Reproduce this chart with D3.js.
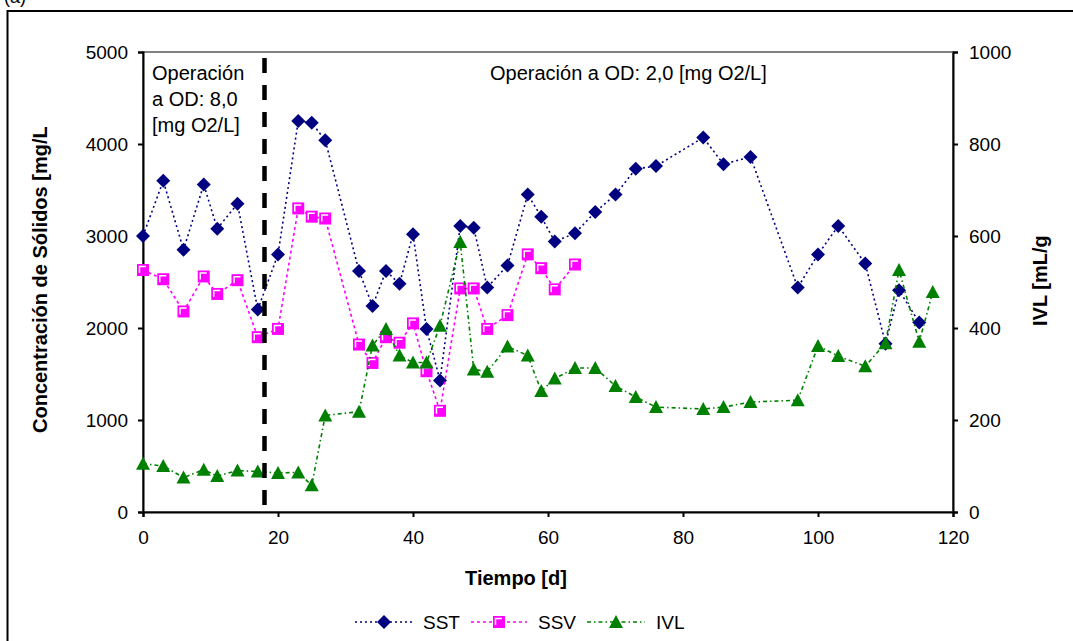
<!DOCTYPE html>
<html>
<head>
<meta charset="utf-8">
<script src="https://cdn.jsdelivr.net/npm/d3@7"></script>
<style>
  body { margin: 0; background: #fff; }
  svg text { font-family: "Liberation Sans", Arial, sans-serif; fill: #000; }
</style>
</head>
<body>
<div id="chart"></div>
<script>
// sampling days for SST
const days = [0, 3, 6, 9, 11, 14, 17, 20, 23, 25, 27, 32, 34, 36, 38, 40, 42, 44, 47, 49,
  51, 54, 57, 59, 61, 64, 67, 70, 73, 76, 83, 86, 90, 97, 100, 103, 107, 110, 112, 115];
const sst = [3000, 3600, 2850, 3560, 3080, 3350, 2200, 2800, 4250, 4230, 4040, 2620, 2240, 2620, 2480, 3020, 1990, 1430, 3110, 3090,
  2440, 2680, 3450, 3210, 2940, 3030, 3260, 3450, 3730, 3760, 4070, 3780, 3860, 2440, 2800, 3110, 2700, 1830, 2410, 2060];

// SSV only measured until day 64
const ssvDays = [0, 3, 6, 9, 11, 14, 17, 20, 23, 25, 27, 32, 34, 36, 38, 40, 42, 44, 47, 49, 51, 54, 57, 59, 61, 64];
const ssv = [2630, 2530, 2180, 2560, 2370, 2520, 1900, 1990, 3300, 3210, 3190, 1820, 1620, 1900, 1840, 2050, 1530, 1100, 2430, 2430,
  1990, 2140, 2800, 2650, 2420, 2690];

// IVL has one more point (day 117)
const ivlDays = [0, 3, 6, 9, 11, 14, 17, 20, 23, 25, 27, 32, 34, 36, 38, 40, 42, 44, 47, 49,
  51, 54, 57, 59, 61, 64, 67, 70, 73, 76, 83, 86, 90, 97, 100, 103, 107, 110, 112, 115, 117];
const ivl = [105, 100, 75, 92, 78, 90, 88, 85, 86, 58, 210, 218, 362, 398, 340, 325, 325, 405, 587, 310,
  305, 360, 340, 263, 290, 313, 313, 274, 250, 228, 224, 228, 239, 243, 361, 339, 317, 367, 526, 370, 478];

const xTicks = [0, 20, 40, 60, 80, 100, 120];
const yLeftTicks = [0, 1000, 2000, 3000, 4000, 5000];
const yRightTicks = [0, 200, 400, 600, 800, 1000];
const changeDay = 18;
const seriesNames = ["SST", "SSV", "IVL"];

const W = 1073, H = 641;
const plot = { left: 143, right: 953, top: 52, bottom: 512 };

const svg = d3.select("#chart").append("svg")
  .attr("width", W)
  .attr("height", H);

// outer frame (runs off the right and bottom edge)
svg.append("rect")
  .attr("x", 7.5).attr("y", 11)
  .attr("width", 1200).attr("height", 800)
  .attr("fill", "none")
  .attr("stroke", "#000")
  .attr("stroke-width", 2);

svg.append("text")
  .attr("x", 4).attr("y", 3)
  .style("font-size", "18px")
  .text("(a)");

const x = d3.scaleLinear().domain([0, 120]).range([plot.left, plot.right]);
const yL = d3.scaleLinear().domain([0, 5000]).range([plot.bottom, plot.top]);
const yR = d3.scaleLinear().domain([0, 1000]).range([plot.bottom, plot.top]);

// plot area border
svg.append("rect")
  .attr("x", plot.left).attr("y", plot.top)
  .attr("width", plot.right - plot.left)
  .attr("height", plot.bottom - plot.top)
  .attr("fill", "none")
  .attr("stroke", "#808080")
  .attr("stroke-width", 2);

// axes
const tickFont = "19px";
const fmt = d3.format("d");
const xAxis = svg.append("g")
  .attr("transform", `translate(0,${plot.bottom})`)
  .call(d3.axisBottom(x).tickValues(xTicks).tickFormat(fmt).tickSize(5).tickPadding(14));
const leftAxis = svg.append("g")
  .attr("transform", `translate(${plot.left},0)`)
  .call(d3.axisLeft(yL).tickValues(yLeftTicks).tickFormat(fmt).tickSize(5).tickPadding(10));
const rightAxis = svg.append("g")
  .attr("transform", `translate(${plot.right},0)`)
  .call(d3.axisRight(yR).tickValues(yRightTicks).tickFormat(fmt).tickSize(5).tickPadding(11));

[xAxis, leftAxis, rightAxis].forEach(g => {
  g.select(".domain").attr("stroke", "#000").attr("stroke-width", 2);
  g.selectAll(".tick line").attr("stroke", "#000").attr("stroke-width", 2);
  g.selectAll(".tick text")
    .attr("fill", "#000")
    .style("font-family", '"Liberation Sans", Arial, sans-serif')
    .style("font-size", tickFont);
});

// axis titles
svg.append("text")
  .attr("x", (plot.left + plot.right) / 2 - 32)
  .attr("y", 585)
  .attr("text-anchor", "middle")
  .style("font-size", "20px")
  .style("font-weight", "bold")
  .text("Tiempo [d]");

svg.append("text")
  .attr("transform", "translate(47,433) rotate(-90)")
  .attr("text-anchor", "start")
  .style("font-size", "20px")
  .style("font-weight", "bold")
  .text("Concentración de Sólidos [mg/L");

svg.append("text")
  .attr("transform", "translate(1047,326) rotate(-90)")
  .attr("text-anchor", "start")
  .style("font-size", "20px")
  .style("font-weight", "bold")
  .text("IVL [mL/g");

// annotations
const leftNote = svg.append("text")
  .attr("x", 152).attr("y", 80)
  .style("font-size", "20px");
["Operación", "a OD: 8,0", "[mg O2/L]"].forEach((t, i) => {
  leftNote.append("tspan").attr("x", 152).attr("dy", i === 0 ? 0 : 26).text(t);
});

svg.append("text")
  .attr("x", 490).attr("y", 80)
  .style("font-size", "20px")
  .text("Operación a OD: 2,0 [mg O2/L]");

// marker shapes
const diamond = "M0,-7L7,0L0,7L-7,0Z";
const triangle = "M0,-7L7,6L-7,6Z";

function drawSquare(g, cx, cy) {
  g.append("rect")
    .attr("x", cx - 6).attr("y", cy - 6)
    .attr("width", 12).attr("height", 12)
    .attr("fill", "#ff00ff");
  g.append("path")
    .attr("d", `M${cx - 3.5},${cy + 3}V${cy - 3.5}H${cx + 3}`)
    .attr("fill", "none")
    .attr("stroke", "#fff")
    .attr("stroke-width", 1.5);
}

const series = [
  { name: "SST", xs: days, ys: sst, scale: yL, color: "#000080", dash: "2,3", marker: "diamond" },
  { name: "SSV", xs: ssvDays, ys: ssv, scale: yL, color: "#ff00ff", dash: "3,3", marker: "square" },
  { name: "IVL", xs: ivlDays, ys: ivl, scale: yR, color: "#008000", dash: "4,3,1.5,3", marker: "triangle" }
];

series.forEach(s => {
  const pts = s.xs.map((d, i) => [x(d), s.scale(s.ys[i])]);
  svg.append("path")
    .datum(pts)
    .attr("d", d3.line())
    .attr("fill", "none")
    .attr("stroke", s.color)
    .attr("stroke-width", 1.6)
    .attr("stroke-dasharray", s.dash);

  const mg = svg.append("g");
  pts.forEach(([px, py]) => {
    if (s.marker === "square") drawSquare(mg, px, py);
    else mg.append("path")
      .attr("d", s.marker === "diamond" ? diamond : triangle)
      .attr("transform", `translate(${px},${py})`)
      .attr("fill", s.color);
  });
});

// change of operation: dashed vertical line
svg.append("line")
  .attr("x1", x(changeDay)).attr("x2", x(changeDay))
  .attr("y1", plot.top + 6).attr("y2", plot.bottom)
  .attr("stroke", "#000")
  .attr("stroke-width", 4.5)
  .attr("stroke-dasharray", "15,12");

// legend
const legendY = 622;
const legendItems = [
  { x0: 355, x1: 413, tx: 423 },
  { x0: 471, x1: 527, tx: 538 },
  { x0: 587, x1: 645, tx: 656 }
];
series.forEach((s, i) => {
  const li = legendItems[i];
  svg.append("line")
    .attr("x1", li.x0).attr("x2", li.x1)
    .attr("y1", legendY).attr("y2", legendY)
    .attr("stroke", s.color)
    .attr("stroke-width", 1.6)
    .attr("stroke-dasharray", s.dash);
  const cx = (li.x0 + li.x1) / 2;
  if (s.marker === "square") drawSquare(svg, cx, legendY);
  else svg.append("path")
    .attr("d", s.marker === "diamond" ? diamond : triangle)
    .attr("transform", `translate(${cx},${legendY})`)
    .attr("fill", s.color);
  svg.append("text")
    .attr("x", li.tx).attr("y", legendY + 7)
    .style("font-size", "19px")
    .text(seriesNames[i]);
});
</script>
</body>
</html>
